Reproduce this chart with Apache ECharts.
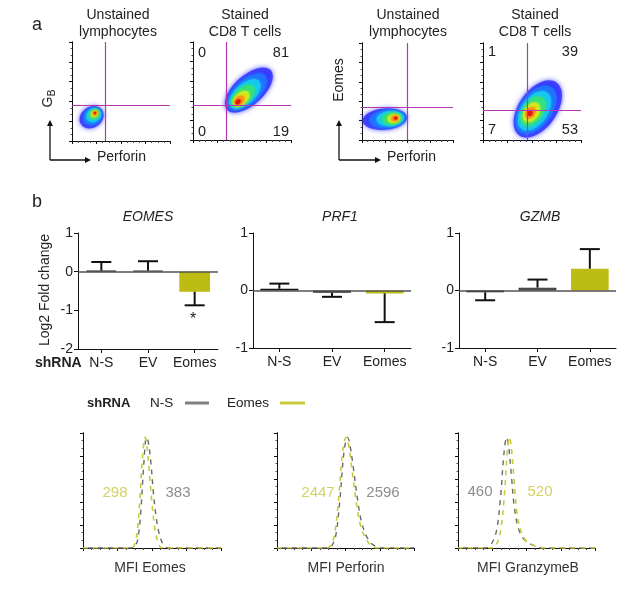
<!DOCTYPE html>
<html><head><meta charset="utf-8">
<script src="https://cdn.jsdelivr.net/npm/echarts@6/dist/echarts.min.js"></script>
<style>html,body{margin:0;padding:0;background:#fff}#c{width:617px;height:591px}</style>
</head><body><div id="c"></div>
<script>
// ================= DATA =================
// Panel b: bar charts (log2 fold change), error = SEM away from zero
const barCategories = ['N-S', 'EV', 'Eomes'];
const eomesMean = [0.03, 0.03, -0.52];
const eomesErr  = [0.22, 0.24, 0.35];
const prf1Mean  = [0.03, -0.04, -0.05];
const prf1Err   = [0.09, 0.07, 0.50];
const gzmbMean  = [-0.03, 0.05, 0.38];
const gzmbErr   = [0.14, 0.14, 0.34];
const yTicksEomes = [-2, 1];   // min, max
const yTicksOther = [-1, 1];

// Panel a: flow density contour layers, outer -> inner: [cx, cy, rx, ry, angleDeg] (axis units 0-100)
const gbUnstainedBlob = [
  [20, 24, 13, 10.5, 35], [21, 25, 10.5, 8.5, 35], [22, 26, 8, 6.6, 35],
  [22.5, 27, 5.8, 4.8, 35], [23, 27.5, 4, 3.3, 35], [23.5, 28, 2.5, 2, 35], [23.5, 28.3, 1.3, 1.1, 35]
];
const gbStainedBlob = [
  [57, 51, 30, 15, 42], [55, 49, 25, 12.5, 42], [53, 47, 19.5, 10, 42],
  [51, 45, 14.5, 7.8, 42], [49, 42, 10, 6, 42], [47.5, 40.5, 6, 4, 42], [46, 39, 3, 2.2, 42]
];
const eoUnstainedBlob = [
  [25, 21.5, 24.5, 11, 5], [28, 21.5, 20, 9.5, 5], [31, 22, 15, 7.8, 5],
  [33, 22, 11, 6.3, 5], [35, 22, 7, 4.5, 5], [36, 22.3, 4, 3, 5], [37, 22.5, 2, 1.6, 5]
];
const eoStainedBlob = [
  [56, 32, 33, 19.5, 55], [54, 31, 28, 16.5, 55], [52.5, 30, 22.5, 13.5, 55],
  [51, 29.5, 17, 10.5, 55], [49.5, 28.5, 11, 7.5, 55], [48.5, 28, 6.5, 4.5, 55], [48, 27.5, 3, 2.5, 55]
];
const quadX = [33.7, 34.2, 49.5, 45];
const quadY = [36.4, 35.7, 34, 31];
const gbStainedPct    = ['0', '81', '0', '19'];   // UL, UR, LL, LR
const eomesStainedPct = ['1', '39', '7', '53'];

// Bottom: MFI histograms [channel, % of max]
const histEomesNS = [[0,0],[35,0],[38,2],[40,10],[42,35],[44,75],[46,100],[47,98],[49,80],[51,50],[53,28],[55,14],[57,6],[59,2],[62,0],[100,0]];
const histEomesKD = [[0,0],[35,0],[37,2],[39,12],[41,40],[43,80],[45,100],[46,96],[48,70],[50,40],[52,18],[54,6],[56,1],[58,0],[100,0]];
const histPrfNS   = [[0,0],[37,0],[40,2],[43,12],[46,45],[49,88],[51.5,100],[53,95],[56,70],[59,42],[62,22],[66,9],[70,3],[76,0],[100,0]];
const histPrfKD   = [[0,0],[36,0],[39,2],[42,12],[45,45],[48,88],[50.5,100],[52,95],[55,68],[58,40],[61,20],[65,8],[69,2],[74,0],[100,0]];
const histGzmNS   = [[0,0],[20,0],[24,3],[28,15],[31,45],[33.5,85],[35.5,100],[37,92],[39,65],[41,38],[44,18],[48,8],[54,3],[62,0],[100,0]];
const histGzmKD   = [[0,0],[25,0],[28,3],[31,15],[34,50],[36,88],[37.5,100],[39,90],[41,60],[43,32],[46,15],[50,6],[56,2],[63,0],[100,0]];
const mfiEomes = ['298', '383'];     // KD, N-S
const mfiPerforin = ['2447', '2596'];
const mfiGzmb = ['520', '460'];

// ================= STYLE =================
const FONT = '"Liberation Sans", Arial, sans-serif';
const YEL = '#bcbc12';
const YEL_LINE = '#c9c93a';
const YEL_TXT = '#d2d264';
const blobColors = ['#3434ff', '#1f72ff', '#14c8ee', '#34e07a', '#cdec20', '#ff9a12', '#e2161a'];
const QCOL = '#b535b5';

const grids = [
  {left: 72, top: 42, width: 98, height: 99},
  {left: 193, top: 42, width: 98, height: 98},
  {left: 362, top: 43, width: 91, height: 97},
  {left: 483, top: 43, width: 98, height: 97},
  {left: 78, top: 233, width: 140, height: 116},
  {left: 253, top: 233, width: 158, height: 115},
  {left: 459, top: 233, width: 157, height: 115},
  {left: 83, top: 433, width: 138, height: 115},
  {left: 277, top: 433, width: 137, height: 115},
  {left: 458, top: 433, width: 137, height: 115}
];

const xAxes = [], yAxes = [], series = [];
const blackLine = {show: true, onZero: false, lineStyle: {color: '#111', width: 1}};

function facsX(g) {
  return {gridIndex: g, type: 'value', min: 0, max: 100, interval: 25,
    axisLine: blackLine, axisLabel: {show: false}, splitLine: {show: false},
    axisTick: {show: true, length: 3, lineStyle: {color: '#111'}},
    minorTick: {show: true, splitNumber: 4, length: 2, lineStyle: {color: '#444'}}};
}
function facsY(g, max, interval) {
  return {gridIndex: g, type: 'value', min: 0, max: max, interval: interval,
    axisLine: blackLine, axisLabel: {show: false}, splitLine: {show: false},
    axisTick: {show: true, length: 3, lineStyle: {color: '#111'}},
    minorTick: {show: true, splitNumber: 3, length: 1.5, lineStyle: {color: '#555'}}};
}
function borderY(g, max) {
  return {gridIndex: g, type: 'value', position: 'right', min: 0, max: max,
    axisLine: {show: true, lineStyle: {color: '#111', width: 1}}, axisTick: {show: false},
    axisLabel: {show: false}, splitLine: {show: false}};
}

// ---- flow plots ----
const blobs = [gbUnstainedBlob, gbStainedBlob, eoUnstainedBlob, eoStainedBlob];
const yIdx = {};
blobs.forEach((b, g) => {
  xAxes.push(facsX(g));
  yIdx[g] = yAxes.length;
  yAxes.push(facsY(g, 100, 20));
  yAxes.push(borderY(g, 100));
  series.push({
    type: 'custom', xAxisIndex: g, yAxisIndex: yIdx[g], silent: true,
    data: b,
    renderItem: function (params, api) {
      const c = api.coord([api.value(0), api.value(1)]);
      const s = api.size([api.value(2), api.value(3)]);
      const i = params.dataIndex;
      return {type: 'ellipse', x: c[0], y: c[1], rotation: api.value(4) * Math.PI / 180,
        shape: {cx: 0, cy: 0, rx: s[0], ry: s[1]},
        style: {fill: blobColors[i], opacity: i === 0 ? 0.85 : 1,
          shadowBlur: i === 0 ? 5 : 3, shadowColor: blobColors[i]}};
    },
    markLine: {silent: true, symbol: 'none', label: {show: false}, animation: false,
      lineStyle: {color: QCOL, width: 1.2, type: 'solid'},
      data: [{xAxis: quadX[g]}, {yAxis: quadY[g]}]}
  });
});

// ---- bar plots ----
const barSets = [[eomesMean, eomesErr, yTicksEomes, '66%'], [prf1Mean, prf1Err, yTicksOther, '72%'], [gzmbMean, gzmbErr, yTicksOther, '72%']];
const barFill = ['#2a2a2a', '#8a8a8a', YEL];
const barBorder = ['#111', '#333', YEL];
barSets.forEach((set, k) => {
  const g = 4 + k;
  const [mean, err, rng, bw] = set;
  xAxes.push({gridIndex: g, type: 'category', data: barCategories,
    axisLine: blackLine,
    axisTick: {show: true, alignWithLabel: true, length: 4, lineStyle: {color: '#111'}},
    axisLabel: {interval: 0, fontFamily: FONT, fontSize: 14, color: '#222', margin: 7},
    splitLine: {show: false}});
  yIdx[g] = yAxes.length;
  yAxes.push({gridIndex: g, type: 'value', min: rng[0], max: rng[1], interval: 1,
    axisLine: blackLine, splitLine: {show: false},
    axisTick: {show: true, length: 4, lineStyle: {color: '#111'}},
    axisLabel: {fontFamily: FONT, fontSize: 14, color: '#222', margin: 5}});
  series.push({
    type: 'bar', xAxisIndex: g, yAxisIndex: yIdx[g], barWidth: bw, silent: true,
    data: mean.map((v, i) => ({value: v, itemStyle: {color: barFill[i], borderColor: barBorder[i], borderWidth: i === 2 ? 0 : 1.2}})),
    markLine: {silent: true, symbol: 'none', label: {show: false}, animation: false,
      lineStyle: {color: '#555', width: 1.5, type: 'solid'}, data: [{yAxis: 0}]},
    z: 2
  });
  series.push({
    type: 'custom', xAxisIndex: g, yAxisIndex: yIdx[g], silent: true, z: 5,
    data: mean.map((v, i) => [i, v, v + (v >= 0 ? err[i] : -err[i])]),
    encode: {x: 0, y: [1, 2]},
    renderItem: function (params, api) {
      const p0 = api.coord([api.value(0), api.value(1)]);
      const p1 = api.coord([api.value(0), api.value(2)]);
      const h = 10;
      return {type: 'group', children: [
        {type: 'line', shape: {x1: p0[0], y1: p0[1], x2: p1[0], y2: p1[1]}, style: {stroke: '#111', lineWidth: 2}},
        {type: 'line', shape: {x1: p1[0] - h, y1: p1[1], x2: p1[0] + h, y2: p1[1]}, style: {stroke: '#111', lineWidth: 2}}
      ]};
    }
  });
});

// ---- histograms ----
const hists = [[histEomesNS, histEomesKD], [histPrfNS, histPrfKD], [histGzmNS, histGzmKD]];
hists.forEach((pair, k) => {
  const g = 7 + k;
  xAxes.push(facsX(g));
  yIdx[g] = yAxes.length;
  yAxes.push(facsY(g, 104, 20.8));
  yAxes.push(borderY(g, 104));
  series.push({type: 'line', xAxisIndex: g, yAxisIndex: yIdx[g], data: pair[0], smooth: 0.35,
    showSymbol: false, silent: true, lineStyle: {color: '#6a6a6a', width: 1.4, type: [5, 5], dashOffset: 5}, z: 3});
  series.push({type: 'line', xAxisIndex: g, yAxisIndex: yIdx[g], data: pair[1], smooth: 0.35,
    showSymbol: false, silent: true, lineStyle: {color: YEL_LINE, width: 1.6, type: [5, 5]}, z: 4});
});

// ---- text / annotations ----
function T(text, x, y, o) {
  o = o || {};
  return {type: 'text', x: x, y: y, rotation: o.rot || 0, z: 100, silent: true,
    style: {text: text, fill: o.color || '#222', fontSize: o.size || 14, fontFamily: FONT,
      fontWeight: o.weight || 'normal', fontStyle: o.style || 'normal',
      align: o.align || 'center', verticalAlign: 'middle'}};
}
function L(x1, y1, x2, y2, color, w) {
  return {type: 'line', z: 100, silent: true, shape: {x1: x1, y1: y1, x2: x2, y2: y2}, style: {stroke: color || '#111', lineWidth: w || 1.3}};
}
function P(points) {
  return {type: 'polygon', z: 100, silent: true, shape: {points: points}, style: {fill: '#111'}};
}

const elements = [
  T('a', 37, 25, {size: 18}),
  T('Unstained', 118, 15), T('lymphocytes', 118, 32),
  T('Stained', 245, 15), T('CD8 T cells', 245, 32),
  T('Unstained', 408, 15), T('lymphocytes', 408, 32),
  T('Stained', 535, 15), T('CD8 T cells', 535, 32),
  T(gbStainedPct[0], 198, 53, {align: 'left', size: 14.5}), T(gbStainedPct[1], 289, 53, {align: 'right', size: 14.5}),
  T(gbStainedPct[2], 198, 132, {align: 'left', size: 14.5}), T(gbStainedPct[3], 289, 132, {align: 'right', size: 14.5}),
  T(eomesStainedPct[0], 488, 52, {align: 'left', size: 14.5}), T(eomesStainedPct[1], 578, 52, {align: 'right', size: 14.5}),
  T(eomesStainedPct[2], 488, 130, {align: 'left', size: 14.5}), T(eomesStainedPct[3], 578, 130, {align: 'right', size: 14.5}),
  T('G', 48, 102, {rot: Math.PI / 2}), T('B', 52, 93, {rot: Math.PI / 2, size: 10}),
  T('Eomes', 339, 80, {rot: Math.PI / 2}),
  L(50, 160, 50, 125), P([[47, 126], [53, 126], [50, 120]]),
  L(50, 160, 86, 160), P([[85, 157], [85, 163], [91, 160]]),
  T('Perforin', 97, 157, {align: 'left'}),
  L(339, 160, 339, 125), P([[336, 126], [342, 126], [339, 120]]),
  L(339, 160, 376, 160), P([[375, 157], [375, 163], [381, 160]]),
  T('Perforin', 387, 157, {align: 'left'}),

  T('b', 37, 202, {size: 18}),
  T('EOMES', 148, 217, {style: 'italic'}),
  T('PRF1', 340, 217, {style: 'italic'}),
  T('GZMB', 540, 217, {style: 'italic'}),
  T('Log2 Fold change', 45, 290, {rot: Math.PI / 2}),
  T('shRNA', 35, 363, {align: 'left', weight: 'bold'}),
  T('*', 193, 320, {size: 16}),

  T('shRNA', 87, 403, {align: 'left', weight: 'bold', size: 13}),
  T('N-S', 150, 403, {align: 'left', size: 13.5}),
  L(185, 403, 209, 403, '#808080', 3),
  T('Eomes', 227, 403, {align: 'left', size: 13.5}),
  L(280, 403, 305, 403, YEL_LINE, 3),

  T(mfiEomes[0], 115, 493, {color: YEL_TXT, size: 15}), T(mfiEomes[1], 178, 493, {color: '#8e8e8e', size: 15}),
  T(mfiPerforin[0], 318, 493, {color: YEL_TXT, size: 15}), T(mfiPerforin[1], 383, 493, {color: '#8e8e8e', size: 15}),
  T(mfiGzmb[1], 480, 492, {color: '#8e8e8e', size: 15}), T(mfiGzmb[0], 540, 492, {color: YEL_TXT, size: 15}),
  T('MFI Eomes', 150, 568, {color: '#333'}),
  T('MFI Perforin', 346, 568, {color: '#333'}),
  T('MFI GranzymeB', 528, 568, {color: '#333'})
];

const chart = echarts.init(document.getElementById('c'), null, {renderer: 'canvas'});
chart.setOption({
  backgroundColor: '#fff',
  animation: false,
  textStyle: {fontFamily: FONT},
  grid: grids,
  xAxis: xAxes,
  yAxis: yAxes,
  series: series,
  graphic: {elements: elements}
});
</script>
</body></html>
